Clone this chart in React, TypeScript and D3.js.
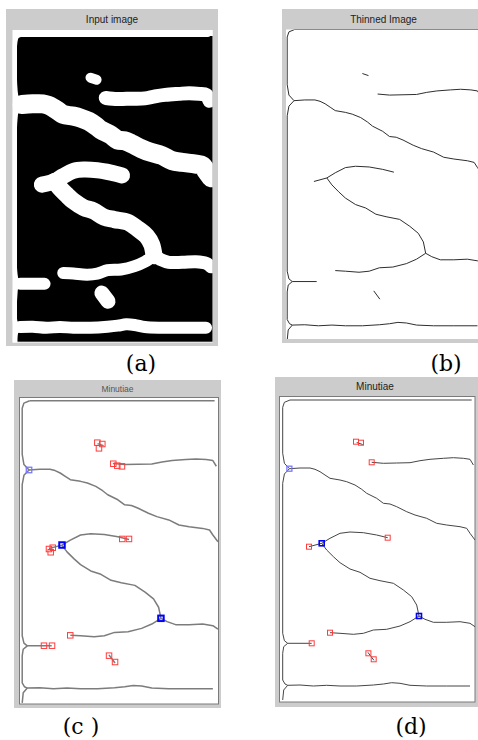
import React, { useEffect, useRef } from 'react';
import * as d3 from 'd3';

type Pt = [number, number];

// ridge skeleton, traced in source-image pixels (x right, y down)
const topEdge: Pt[] = [[7.3, 0], [189, 0]];
const leftEdge: Pt[] = [
  [7.3, 0], [1.7, 2.3], [0, 7.3], [0, 53.3], [1.7, 63.3], [6.7, 68.7], [1.7, 74], [0, 83.3],
  [0, 233.3], [1.7, 240.7], [5, 243.3], [1, 246.7], [0, 253.3], [0, 280], [2.3, 284],
  [5, 285.3], [1, 290], [0, 300],
];
const ridgeUpper: Pt[] = [
  [89, 62.3], [100.7, 63.3], [114, 63], [127.3, 62.7], [137.3, 60.7], [147.3, 59.3],
  [160.7, 58.3], [170.7, 57.7], [180.7, 58.3], [187.3, 59.3], [190.7, 65],
];
const ridgeLong: Pt[] = [
  [6.7, 68.7], [17.3, 68], [27.3, 68], [32.3, 69.3], [37.3, 71.7], [42.3, 75], [47.3, 78.3],
  [57.3, 80], [64, 81.7], [72.3, 85], [79, 89.3], [84, 93.3], [94, 98.3], [100.7, 103.3],
  [107.3, 104], [114, 106.7], [124, 111.7], [132.3, 115], [144, 118.3], [154, 123.3],
  [164, 125], [177.3, 126.7], [184, 128.3], [187.3, 133.3], [192.3, 140],
];
const forkTop: Pt[] = [
  [26.3, 146.7], [39, 143.3], [47.3, 138.3], [57.3, 133.3], [67.3, 132], [80.7, 132.7],
  [94, 135], [105, 137.7],
];
const forkDiag: Pt[] = [
  [39, 143.3], [44, 150], [50.7, 156.7], [57.3, 162.7], [67.3, 169], [77.3, 172.3],
  [87.3, 178.3], [97.3, 180.7], [110.7, 183.3], [120.7, 190], [129, 196.7], [134, 205],
  [136.3, 216],
];
const lowerRight: Pt[] = [
  [136.3, 216], [142.3, 219.3], [150.7, 222.3], [164, 222.3], [177.3, 221.7], [187.3, 223.3],
  [192.3, 226.7],
];
const lowerLeft: Pt[] = [
  [136.3, 216], [127.3, 221.7], [117.3, 226], [104, 229.3], [90.7, 230], [80.7, 233.3],
  [70.7, 234.3], [57.3, 233.3], [47.3, 232.7],
];
const leftStub: Pt[] = [[5, 243.3], [29, 243.3]];
const bottomRidge: Pt[] = [
  [5, 285.3], [17.3, 285], [30.7, 286], [44, 285.3], [57.3, 286], [74, 286], [90.7, 285],
  [100.7, 284], [109, 282.7], [117.3, 283.3], [127.3, 285.3], [144, 286], [164, 286],
  [187.3, 286],
];
const islandTop: Pt[] = [[74, 42.5], [80, 44.5]];
const islandBottom: Pt[] = [[85.2, 252.3], [91.2, 260.3]];

// minutiae found in (c) and (d)
const endingsC: Pt[] = [
  [73.8, 41.6], [78.7, 42.9], [75.4, 47.2], [89.5, 62.5], [93.4, 64.4], [98, 65.1],
  [98.3, 137.2], [104.9, 137.2], [26.3, 147.2], [30, 145.9], [28, 150.4], [47.2, 232.9],
  [21.4, 243.2], [29.3, 243.2], [85.3, 253.1], [91.2, 259.4],
];
const forksC: Pt[] = [[6.7, 68.7], [39.1, 143.2], [136.3, 216]];
const endingsD: Pt[] = [
  [73.3, 41.7], [78.3, 42.7], [89, 62.3], [26.3, 146.7], [105, 137.7], [47.3, 232.7],
  [29, 243.3], [85.7, 253.3], [91, 259.3],
];
const forksD: Pt[] = [[6.7, 68.7], [39, 143.3], [136.3, 216]];

const titles = ['Input image', 'Thinned Image', 'Minutiae', 'Minutiae'];
const captions = ['(a)', '(b)', '(c )', '(d)'];

const skeleton = [
  topEdge, leftEdge, ridgeUpper, ridgeLong, forkTop, forkDiag, lowerRight, lowerLeft,
  leftStub, bottomRidge, islandTop, islandBottom,
];

export default function App() {
  const ref = useRef<SVGSVGElement>(null);

  useEffect(() => {
    const svg = d3.select(ref.current);
    svg.selectAll('*').remove();

    const panels = [
      { outer: [6, 9, 218, 346], inner: [12.5, 30, 212.7, 342.5], x0: 15, kx: 1.02, y0: 34, ky: 1.027, tx: 112, ty: 23, ts: 10, cap: [141, 371] },
      { outer: [282, 9, 485, 343], inner: [286, 29.5, 485, 339], x0: 287.2, kx: 1.016, y0: 29.5, ky: 1.036, tx: 383.5, ty: 23, ts: 10, cap: [446, 371] },
      { outer: [14, 380, 221, 708], inner: [19.5, 397.5, 218.5, 704], x0: 22.2, kx: 1.018, y0: 400.8, ky: 1.007, tx: 117.5, ty: 392, ts: 8.5, cap: [81, 733.5] },
      { outer: [275, 377, 485, 707], inner: [279.5, 396.5, 475, 702], x0: 282.7, kx: 1, y0: 400, ky: 1, tx: 375, ty: 389.5, ts: 10, cap: [411, 733.5] },
    ];

    const defs = svg.append('defs');

    panels.forEach((p, i) => {
      const [ox0, oy0, ox1, oy1] = p.outer;
      const [ix0, iy0, ix1, iy1] = p.inner;
      const g = svg.append('g');

      g.append('rect')
        .attr('x', ox0).attr('y', oy0)
        .attr('width', ox1 - ox0).attr('height', oy1 - oy0)
        .attr('fill', '#cccccc');

      g.append('text')
        .attr('x', p.tx).attr('y', p.ty)
        .attr('text-anchor', 'middle')
        .attr('font-family', '"Liberation Sans", Arial, sans-serif')
        .attr('font-size', p.ts)
        .attr('fill', i === 2 ? '#555' : '#222')
        .text(titles[i]);

      g.append('rect')
        .attr('x', ix0).attr('y', iy0)
        .attr('width', ix1 - ix0).attr('height', iy1 - iy0)
        .attr('fill', '#fff')
        .attr('stroke', i >= 2 ? '#7a7a7a' : 'none')
        .attr('stroke-width', 1);

      defs.append('clipPath').attr('id', `clip${i}`)
        .append('rect')
        .attr('x', ix0).attr('y', iy0)
        .attr('width', ix1 - ix0).attr('height', iy1 - iy0);

      const xs = d3.scaleLinear().domain([0, 200]).range([p.x0, p.x0 + 200 * p.kx]);
      const ys = d3.scaleLinear().domain([0, 300]).range([p.y0, p.y0 + 300 * p.ky]);
      const plot = g.append('g').attr('clip-path', `url(#clip${i})`);

      if (i === 0) {
        // binarised input: white ridges on black
        const smooth = d3.line<Pt>().x((d) => xs(d[0])).y((d) => ys(d[1])).curve(d3.curveCatmullRom);
        plot.append('rect')
          .attr('x', 17).attr('y', 36)
          .attr('width', ix1 - 17).attr('height', 341.7 - 36)
          .attr('fill', '#000');
        const widths = [6, 5, 14, 19, 16, 17, 13, 12, 12, 12, 10, 15];
        skeleton.forEach((r, j) => {
          plot.append('path')
            .attr('d', smooth(r))
            .attr('fill', 'none')
            .attr('stroke', '#fff')
            .attr('stroke-width', widths[j])
            .attr('stroke-linecap', 'round')
            .attr('stroke-linejoin', 'round');
        });
      } else {
        const line = d3.line<Pt>().x((d) => xs(d[0])).y((d) => ys(d[1]));
        const stroke = i === 1 ? '#2e2e2e' : i === 2 ? '#7c7c7c' : '#454545';
        const sw = i === 2 ? 1.5 : 1;
        skeleton.forEach((r) => {
          plot.append('path')
            .attr('d', line(r))
            .attr('fill', 'none')
            .attr('stroke', stroke)
            .attr('stroke-width', sw)
            .attr('stroke-linejoin', 'round');
        });
      }

      if (i >= 2) {
        const ends = i === 2 ? endingsC : endingsD;
        const forks = i === 2 ? forksC : forksD;
        const s = i === 2 ? 5.5 : 5;
        plot.selectAll('.end')
          .data(ends)
          .enter()
          .append('rect')
          .attr('x', (d) => xs(d[0]) - s / 2)
          .attr('y', (d) => ys(d[1]) - s / 2)
          .attr('width', s).attr('height', s)
          .attr('fill', 'none')
          .attr('stroke', '#ff3c3c')
          .attr('stroke-width', 1);
        plot.selectAll('.fork')
          .data(forks)
          .enter()
          .append('rect')
          .attr('x', (d) => xs(d[0]) - s / 2)
          .attr('y', (d) => ys(d[1]) - s / 2)
          .attr('width', s).attr('height', s)
          .attr('fill', 'none')
          .attr('stroke', (d, k) => (k === 0 ? '#7878ff' : '#0000ff'))
          .attr('stroke-width', (d, k) => (k === 0 ? 1.3 : i === 2 ? 2 : 1.6));
      }

      svg.append('text')
        .attr('x', p.cap[0]).attr('y', p.cap[1])
        .attr('text-anchor', 'middle')
        .attr('font-family', '"DejaVu Serif", serif')
        .attr('font-size', 22)
        .attr('fill', '#000')
        .text(captions[i]);
    });
  }, []);

  return (
    <svg
      ref={ref}
      width={478}
      height={740}
      style={{ position: 'absolute', left: 0, top: 0, background: '#fff' }}
    />
  );
}
